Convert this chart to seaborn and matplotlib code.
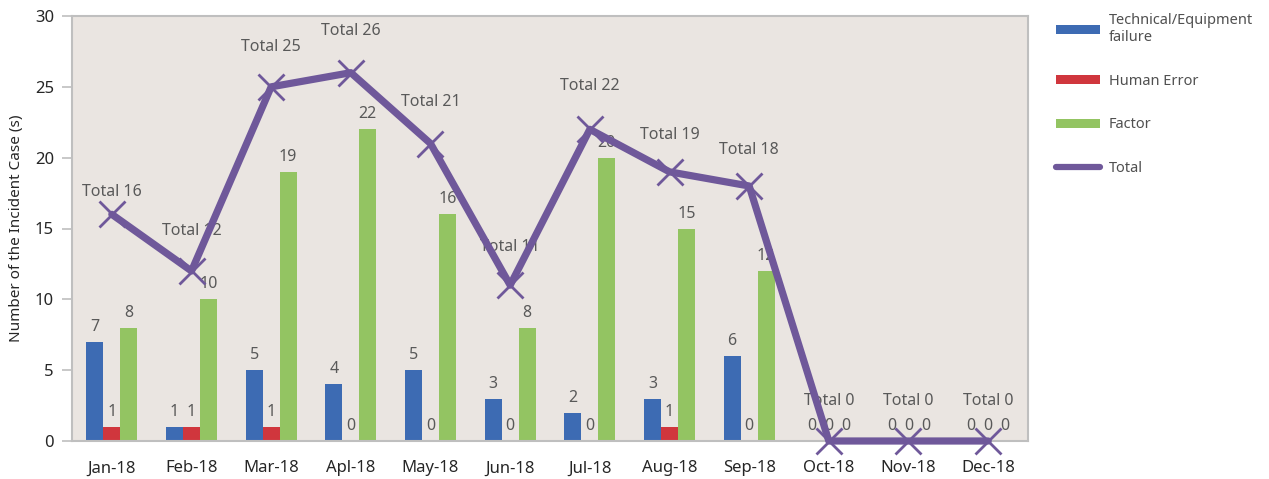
import numpy as np
import pandas as pd
import matplotlib
matplotlib.use("Agg")
import matplotlib.pyplot as plt
import seaborn as sns
from matplotlib.patches import Patch
from matplotlib.lines import Line2D

months = ["Jan-18", "Feb-18", "Mar-18", "Apl-18", "May-18", "Jun-18",
          "Jul-18", "Aug-18", "Sep-18", "Oct-18", "Nov-18", "Dec-18"]
technical = [7, 1, 5, 4, 5, 3, 2, 3, 6, 0, 0, 0]
human = [1, 1, 1, 0, 0, 0, 0, 1, 0, 0, 0, 0]
factor = [8, 10, 19, 22, 16, 8, 20, 15, 12, 0, 0, 0]
total = [16, 12, 25, 26, 21, 11, 22, 19, 18, 0, 0, 0]
series_names = ["Technical/Equipment\nfailure", "Human Error", "Factor"]
total_name = "Total"

colors = ["#3D6BB3", "#D0363D", "#93C462"]
line_color = "#6F589A"
label_color = "#595959"
total_offsets_px = [22, 40, 40, 42, 42, 38, 43, 37, 36, 40, 40, 40]

sns.set_theme(style="white")
plt.rcParams['font.family'] = ['Noto Sans', 'DejaVu Sans']

df = pd.DataFrame({
    "month": months * 3,
    "series": sum([[s] * len(months) for s in series_names], []),
    "value": technical + human + factor,
})

fig = plt.figure(figsize=(12.69, 4.79), dpi=100)
ax = fig.add_axes([72 / 1269, 1 - 441 / 479, (1028 - 72) / 1269, (441 - 16) / 479])
ax.set_facecolor("#EAE5E1")

sns.barplot(data=df, x="month", y="value", hue="series", order=months,
            hue_order=series_names, palette=colors, width=0.64, gap=0,
            saturation=1, ax=ax, legend=False, zorder=2, linewidth=0, edgecolor="none")

for cont in ax.containers:
    ax.bar_label(cont, fmt="%d", padding=5, color=label_color, fontsize=11.5, zorder=3)

x = np.arange(len(months))
sns.lineplot(x=x, y=total, ax=ax, color=line_color, linewidth=5.2,
             marker="x", markersize=19, markeredgewidth=2.0,
             markeredgecolor=line_color, zorder=5, legend=False, clip_on=False)

for i, (t, off) in enumerate(zip(total, total_offsets_px)):
    ax.annotate(f"Total {t}", (x[i], t), xytext=(0, off * 0.72), textcoords="offset points",
                ha="center", va="center", color=label_color, fontsize=11.5, zorder=3)

ax.set_xlim(-0.5, len(months) - 0.5)
ax.set_ylim(0, 30)
ax.set_yticks(range(0, 31, 5))
ax.set_xlabel("")
ax.set_ylabel("Number of the Incident Case (s)", fontsize=11, color="#262626", labelpad=8)
ax.tick_params(axis="y", which="both", left=True, length=7, width=1.2,
               color="#BFBFBF", labelsize=12, labelcolor="#262626", pad=6)
ax.tick_params(axis="x", bottom=False, labelsize=12, labelcolor="#262626", pad=8)
for s in ax.spines.values():
    s.set_color("#BFBFBF")
    s.set_linewidth(1.5)

handles = [Patch(facecolor=c, edgecolor="none") for c in colors]
handles.append(Line2D([0], [0], color=line_color, linewidth=4.5))
fig.legend(handles, series_names + [total_name], loc="upper left",
           bbox_to_anchor=(1049 / 1269, 1 - 6 / 479), frameon=False, borderpad=0,
           fontsize=10.5, labelcolor="#505050", handlelength=3.0, handleheight=0.55,
           labelspacing=1.95, handletextpad=0.6)

fig.savefig("out.png", dpi=100)
